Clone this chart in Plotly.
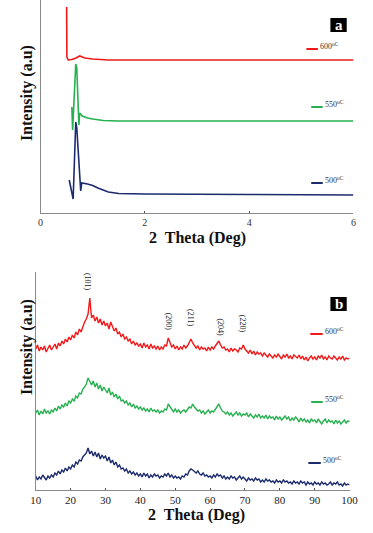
import plotly.graph_objects as go

W, H = 373, 533

# ---------------- Panel (a): low-angle XRD ----------------
a_red_x = [0.50, 0.505, 0.53, 0.60, 0.68, 0.75, 0.85, 1.0, 1.3, 2.0, 4.0, 6.0]
a_red_y = [206, 156, 153, 153.5, 155, 157, 155, 154, 153, 153, 153, 153]
a_green_x = [0.60, 0.615, 0.675, 0.695, 0.735, 0.75, 0.80, 0.90, 1.0, 1.2, 1.5, 2.0, 4.0, 6.0]
a_green_y = [106, 83, 149, 145, 88, 100, 97, 95, 94, 92.5, 92, 92, 92, 92]
a_blue_x = [0.55, 0.625, 0.675, 0.695, 0.77, 0.79, 0.90, 1.0, 1.1, 1.2, 1.3, 1.5, 2.0, 4.0, 6.0]
a_blue_y = [33, 14, 91, 85, 22, 30, 29, 27.5, 25, 23, 21, 19.5, 19, 18.5, 18]
a_ticks = [0, 2, 4, 6]

# ---------------- Panel (b): wide-angle XRD ----------------
b_x = [10 + 0.5 * i for i in range(181)]
b_red = [
    141,145,139,143,140,144,138,142,145,140,
    143,146,141,147,144,149,146,151,148,153,
    150,155,152,158,155,161,158,164,168,171,
    176,192,172,175,169,173,167,171,165,169,
    164,167,161,168,163,159,162,156,158,153,
    156,151,153,149,151,146,149,145,147,144,
    146,142,147,143,145,141,146,142,144,141,
    144,140,143,141,145,144,152,147,143,145,
    141,144,140,143,141,145,142,144,147,151,
    147,145,142,144,140,143,141,142,139,143,
    140,143,141,144,146,149,145,142,143,140,
    141,138,142,139,141,140,138,142,141,145,
    141,139,137,140,136,139,135,138,136,137,
    134,137,135,133,136,134,132,135,133,136,
    134,131,135,133,136,132,134,131,135,133,
    132,135,131,134,130,133,129,132,134,131,
    133,130,134,132,135,131,133,130,134,132,
    131,134,132,130,133,131,134,130,132,131,
    132]
b_green = [
    77,80,75,79,76,81,77,79,76,80,
    78,82,79,84,81,85,83,87,84,89,
    87,91,89,94,92,97,96,101,103,106,
    112,108,105,109,103,107,101,105,99,103,
    100,97,102,95,98,93,96,91,94,89,
    90,87,89,85,87,83,86,82,84,81,
    83,80,82,79,81,78,82,79,80,78,
    80,77,79,78,81,80,86,83,80,78,
    81,78,80,77,79,80,78,81,83,82,
    86,83,81,79,80,77,79,76,78,80,
    77,79,78,81,84,86,82,79,78,76,
    78,75,77,74,76,78,75,77,74,76,
    75,77,73,76,74,72,75,73,76,72,
    74,72,75,71,74,72,73,70,74,71,
    73,70,72,74,71,73,69,72,70,73,
    71,68,72,69,71,68,70,67,71,69,
    70,67,71,68,66,69,71,67,70,68,
    69,66,70,67,69,66,68,70,67,69,
    68]
b_blue = [
    14,10,13,11,15,12,10,14,12,15,
    13,17,15,19,16,20,18,22,19,23,
    21,25,23,28,26,30,29,33,35,37,
    42,36,39,34,38,33,37,31,35,32,
    34,29,33,27,30,25,28,23,25,21,
    22,19,21,17,19,16,18,15,17,14,
    16,13,17,14,16,12,15,13,16,14,
    15,12,14,13,16,14,17,13,15,12,
    14,12,13,11,14,13,16,15,19,21,
    20,18,17,19,16,15,17,14,15,13,
    14,12,15,13,16,14,15,12,14,11,
    13,11,14,12,13,10,12,14,11,13,
    11,9,12,10,11,9,12,10,11,8,
    10,8,11,9,10,8,9,7,10,8,
    9,7,10,8,9,7,8,6,9,7,
    8,6,9,7,8,5,8,6,7,5,
    8,6,7,5,8,6,7,5,6,8,
    5,7,6,8,5,6,4,7,5,6,
    5]
b_ticks = [10, 20, 30, 40, 50, 60, 70, 80, 90, 100]
peak_labels = ["(101)", "(200)", "(211)", "(204)", "(220)"]
peak_x = [25, 48.3, 54.5, 63, 69.5]
peak_y = [208, 168, 172, 163, 166]

series_names = ["600", "550", "500"]
RED, GREEN, BLUE = "#f01818", "#27b04f", "#1c2a6e"
colors = [RED, GREEN, BLUE]

SERIF = "Liberation Serif, Times New Roman, serif"

def px(x):
    return x / W

def py(y):
    return 1 - y / H

fig = go.Figure()

for xs, ys, c in [(a_red_x, a_red_y, RED), (a_green_x, a_green_y, GREEN), (a_blue_x, a_blue_y, BLUE)]:
    fig.add_trace(go.Scatter(x=xs, y=ys, mode="lines", line=dict(color=c, width=1.6),
                             xaxis="x", yaxis="y", showlegend=False, hoverinfo="skip"))

for ys, c in [(b_red, RED), (b_green, GREEN), (b_blue, BLUE)]:
    fig.add_trace(go.Scatter(x=b_x, y=ys, mode="lines", line=dict(color=c, width=1.4),
                             xaxis="x2", yaxis="y2", showlegend=False, hoverinfo="skip"))

axis_common = dict(showgrid=False, zeroline=False, linecolor="#8a8a8a", linewidth=1,
                   ticks="inside", ticklen=2, tickcolor="#555")

fig.update_layout(
    width=W, height=H, margin=dict(l=0, r=0, t=0, b=0),
    paper_bgcolor="white", plot_bgcolor="white",
    xaxis=dict(domain=[px(36), px(362)], range=[0, 6], tickvals=a_ticks,
               anchor="y", showline=True, tickfont=dict(family=SERIF, size=10, color="#333"),
               **axis_common),
    yaxis=dict(domain=[py(213), py(0)], range=[0, 213], showticklabels=False,
               anchor="x", showline=True, showgrid=False, zeroline=False,
               linecolor="#8a8a8a", linewidth=1, ticks=""),
    xaxis2=dict(domain=[px(31), px(358)], range=[10, 100], tickvals=b_ticks,
                anchor="y2", showline=True, tickfont=dict(family=SERIF, size=11, color="#222"),
                **axis_common),
    yaxis2=dict(domain=[py(490), py(272)], range=[0, 218], showticklabels=False,
                anchor="x2", showline=True, showgrid=False, zeroline=False,
                linecolor="#8a8a8a", linewidth=1, ticks=""),
    showlegend=False,
)

ann = []
# axis titles
for (cx, cy) in [(200, 238), (198, 515)]:
    ann.append(dict(x=px(cx), y=py(cy), xref="paper", yref="paper", text="<b>2  Theta (Deg)</b>",
                    showarrow=False, xanchor="center", yanchor="middle",
                    font=dict(family=SERIF, size=16, color="#111")))
for (cx, cy) in [(22, 93), (22, 347)]:
    ann.append(dict(x=px(cx), y=py(cy), xref="paper", yref="paper", text="<b>Intensity (a.u)</b>",
                    showarrow=False, textangle=-90, xanchor="center", yanchor="middle",
                    font=dict(family=SERIF, size=16, color="#111")))

# peak labels
for lab, xv, yv in zip(peak_labels, peak_x, peak_y):
    ann.append(dict(x=xv, y=yv, xref="x2", yref="y2", text=lab, showarrow=False, textangle=90,
                    xanchor="center", yanchor="middle",
                    font=dict(family=SERIF, size=8, color="#222")))

shapes = []
# legends
leg_a = [(313, 325, 49), (318, 330, 107), (318, 330, 183)]
leg_b = [(317, 330, 334), (318, 330, 402), (315, 328, 463)]
for leg in (leg_a, leg_b):
    for (x0, x1, yy), name, c in zip(leg, series_names, colors):
        shapes.append(dict(type="line", xref="paper", yref="paper", x0=px(x0), x1=px(x1),
                           y0=py(yy), y1=py(yy), line=dict(color=c, width=2)))
        ann.append(dict(x=px(x1 + 0.5), y=py(yy - 3), xref="paper", yref="paper",
                        text=name + "<sup>oC</sup>", showarrow=False, xanchor="left", yanchor="middle",
                        font=dict(family=SERIF, size=8, color="#333")))

# panel letters
for (x0, x1, y0, y1, letter) in [(338, 355, 18, 32, "a"), (338, 355, 297, 311, "b")]:
    shapes.append(dict(type="rect", xref="paper", yref="paper", x0=px(x0), x1=px(x1),
                       y0=py(y1), y1=py(y0), fillcolor="black", line=dict(width=0)))
    ann.append(dict(x=px((x0 + x1) / 2), y=py((y0 + y1) / 2), xref="paper", yref="paper",
                    text="<b>" + letter + "</b>", showarrow=False, xanchor="center", yanchor="middle",
                    font=dict(family=SERIF, size=15, color="white")))

fig.update_layout(annotations=ann, shapes=shapes)
fig.write_html("out.html")
